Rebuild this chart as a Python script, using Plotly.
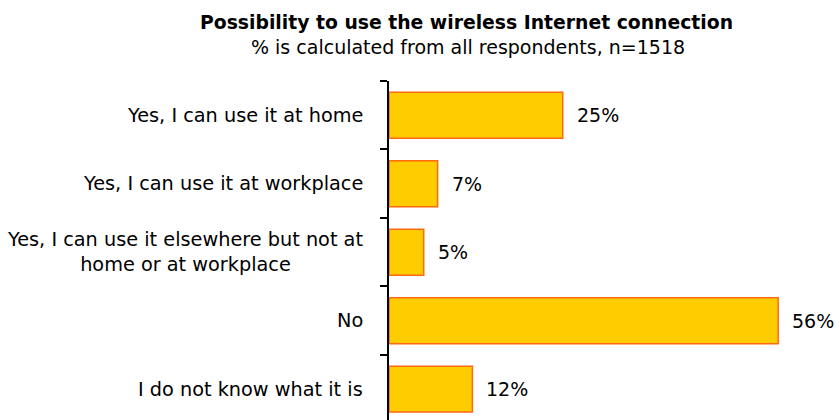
import plotly.graph_objects as go

# Survey answers and shares (% of all respondents)
categories = [
    "Yes, I can use it at home",
    "Yes, I can use it at workplace",
    "Yes, I can use it elsewhere but not at<br>home or at workplace",
    "No",
    "I do not know what it is",
]
values = [25, 7, 5, 56, 12]
value_labels = ["25%", "7%", "5%", "56%", "12%"]

title_text = "Possibility to use the wireless Internet connection"
subtitle_text = "% is calculated from all respondents, n=1518"

FONT = "DejaVu Sans"
positions = list(range(len(categories)))

# plot area in pixels
L, T, W, H = 389, 81, 839, 420

fig = go.Figure()
fig.add_trace(go.Bar(
    x=values,
    y=positions,
    orientation="h",
    marker=dict(color="#FFCC00", line=dict(color="#FF6A13", width=1.5)),
    width=0.67,
    hoverinfo="skip",
))

annotations = []
# category labels, centred multi-line text left of the axis
for pos, cat in zip(positions, categories):
    annotations.append(dict(
        x=0, y=pos, xref="x", yref="y", text=cat, showarrow=False,
        xanchor="right", yanchor="middle", align="center", xshift=-24,
        font=dict(family=FONT, size=19.3, color="#000000"),
    ))
# value labels beside each bar
for pos, v, lab in zip(positions, values, value_labels):
    annotations.append(dict(
        x=v, y=pos, xref="x", yref="y", text=lab, showarrow=False,
        xanchor="left", yanchor="middle", xshift=12,
        font=dict(family=FONT, size=19, color="#000000"),
    ))


def paper_xy(px, py):
    return (px - L) / (W - L), 1 + (T - py) / (H - T)


tx, ty = paper_xy(466, 22)
annotations.append(dict(
    x=tx, y=ty, xref="paper", yref="paper", text="<b>" + title_text + "</b>",
    showarrow=False, xanchor="center", yanchor="middle",
    font=dict(family=FONT, size=18.8, color="#000000"),
))
sx, sy = paper_xy(468, 47)
annotations.append(dict(
    x=sx, y=sy, xref="paper", yref="paper", text=subtitle_text,
    showarrow=False, xanchor="center", yanchor="middle",
    font=dict(family=FONT, size=19, color="#000000"),
))

fig.update_layout(
    width=W, height=H,
    margin=dict(l=L, r=0, t=T, b=0),
    paper_bgcolor="white", plot_bgcolor="white",
    showlegend=False,
    annotations=annotations,
    xaxis=dict(range=[0, 64.75], visible=False, fixedrange=True),
    yaxis=dict(
        range=[4.45, -0.5], showgrid=False, zeroline=False,
        tickmode="array", tickvals=[p - 0.5 for p in positions],
        ticktext=["" for _ in positions],
        ticks="outside", ticklen=7, tickwidth=2, tickcolor="#000000",
        showline=True, linecolor="#000000", linewidth=2,
        fixedrange=True,
    ),
)

fig.write_html("out.html")
